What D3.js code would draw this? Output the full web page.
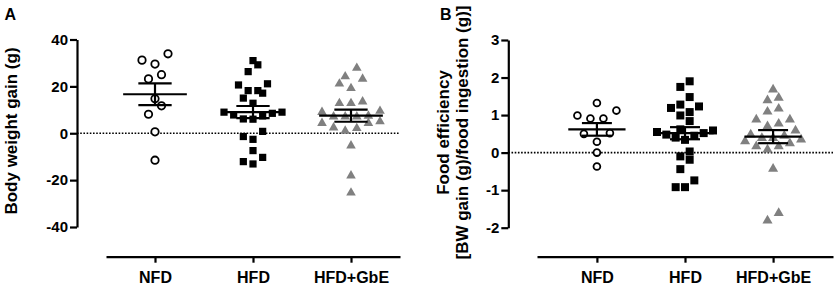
<!DOCTYPE html>
<html><head><meta charset="utf-8">
<script src="https://cdn.jsdelivr.net/npm/d3@7"></script>
<style>
html,body{margin:0;padding:0;background:#fff;}
svg{display:block;font-family:"Liberation Sans",Arial,sans-serif;}
</style></head>
<body><svg id="chart" width="835" height="285"></svg>
<script>
// ---------- DATA ----------
const categories = ["NFD", "HFD", "HFD+GbE"];

// Panel A: body weight gain (g)
const bwNFD = [33.9, 31.2, 29.5, 25.0, 23.2, 14.7, 11.7, 8.1, 0.6, -11.5];
const bwHFD = [31.0, 29.2, 26.3, 21.1, 20.6, 18.2, 18.2, 17.1, 15.0, 12.8, 9.0, 9.0, 8.5, 7.8, 7.4, 6.1, 6.0, 0.8, -1.4, -2.6, -7.4, -10.3, -12.1, -13.1];
const bwGbE = [27.8, 24.2, 23.2, 21.1, 19.2, 13.5, 12.8, 12.8, 9.5, 9.0, 7.4, 7.1, 7.1, 7.1, 5.0, 4.3, 4.3, 2.4, 2.1, 1.0, -5.3, -18.1, -25.4];
const ticksA = [-40, -20, 0, 20, 40];
const tickLabelsA = ["-40", "-20", "0", "20", "40"];

// Panel B: food efficiency
const feNFD = [1.32, 1.12, 0.99, 0.91, 0.91, 0.52, 0.50, 0.29, 0.0, -0.37];
const feHFD = [1.90, 1.75, 1.48, 1.28, 1.23, 1.19, 1.08, 0.99, 0.84, 0.62, 0.59, 0.55, 0.52, 0.48, 0.45, 0.40, 0.34, 0.03, -0.10, -0.19, -0.44, -0.74, -0.92, -0.92];
const feGbE = [1.68, 1.46, 1.39, 1.17, 1.09, 0.88, 0.88, 0.77, 0.70, 0.59, 0.48, 0.45, 0.39, 0.39, 0.35, 0.30, 0.25, 0.17, 0.17, 0.08, -0.43, -1.61, -1.81];
const ticksB = [-2, -1, 0, 1, 2, 3];
const tickLabelsB = ["-2", "-1", "0", "1", "2", "3"];

// ---------- DRAW ----------
const svg = d3.select("#chart");
const FONT = "Liberation Sans, Arial, sans-serif";

function swarm(values, y, binH, maxHalf, maxStep) {
  const pts = values.map(v => ({v, py: y(v)})).sort((a, b) => b.py - a.py);
  const bins = [];
  let cur = null;
  for (const p of pts) {
    if (!cur || cur.start - p.py > binH) { cur = {start: p.py, items: []}; bins.push(cur); }
    cur.items.push(p);
  }
  const maxN = d3.max(bins, b => b.items.length);
  const step = maxN > 1 ? Math.min(maxStep, 2 * maxHalf / (maxN - 1)) : 0;
  for (const b of bins) {
    const n = b.items.length;
    const slots = d3.range(n).map(k => k - (n - 1) / 2)
      .sort((a, c) => (Math.abs(a) - Math.abs(c)) || (a - c));
    b.items.forEach((p, i) => { p.dx = slots[i] * step; });
  }
  return pts;
}

function panel(cfg) {
  const g = svg.append("g");
  const y = d3.scaleLinear().domain(cfg.yDomain).range(cfg.yRange);
  const x = d3.scalePoint().domain(categories).range(cfg.xRange).padding(cfg.xPad);

  // y axis
  const ya = g.append("g").attr("transform", `translate(${cfg.yAxisX},0)`)
    .call(d3.axisLeft(y).tickValues(cfg.ticks).tickFormat((d, i) => cfg.tickLabels[i])
      .tickSize(7).tickSizeOuter(0).tickPadding(2));
  ya.select(".domain").attr("stroke-width", 2.2);
  ya.selectAll(".tick line").attr("stroke-width", 2.2);
  ya.selectAll(".tick text").attr("font-size", 15).attr("font-weight", "bold").attr("font-family", FONT).attr("fill", "#000");

  // x axis
  const xa = g.append("g").attr("transform", `translate(0,${cfg.xAxisY})`)
    .call(d3.axisBottom(x).tickSize(6).tickSizeOuter(0).tickPadding(9));
  xa.select(".domain").attr("stroke-width", 2.2);
  xa.selectAll(".tick line").attr("stroke-width", 2.2);
  xa.selectAll(".tick text").attr("font-size", 16).attr("font-weight", "bold").attr("font-family", FONT).attr("fill", "#000");

  // zero dotted line
  g.append("line").attr("x1", cfg.yAxisX).attr("x2", cfg.xRange[1])
    .attr("y1", y(0)).attr("y2", y(0))
    .attr("stroke", "#000").attr("stroke-width", 1.7).attr("stroke-dasharray", "1.6 1.6");

  const step = x.step();
  cfg.series.forEach((vals, si) => {
    const cx = x(categories[si]);
    const pts = swarm(vals, y, 10.5, cfg.maxHalf, cfg.maxStep);
    const mg = g.append("g");
    if (si === 0) {
      mg.selectAll("circle").data(pts).join("circle")
        .attr("cx", d => cx + d.dx).attr("cy", d => d.py).attr("r", cfg.circR)
        .attr("fill", "#fff").attr("stroke", "#000").attr("stroke-width", 1.8);
    } else if (si === 1) {
      mg.selectAll("path").data(pts).join("path")
        .attr("d", d3.symbol(d3.symbolSquare, cfg.sqSize))
        .attr("transform", d => `translate(${cx + d.dx},${d.py})`).attr("fill", "#000");
    } else {
      mg.selectAll("path").data(pts).join("path")
        .attr("d", d3.symbol(d3.symbolTriangle, cfg.triSize))
        .attr("transform", d => `translate(${cx + d.dx},${d.py})`).attr("fill", "#808080");
    }
    // mean +/- SEM
    const m = d3.mean(vals), sem = d3.deviation(vals) / Math.sqrt(vals.length);
    const mw = step * 0.325, sw = step * 0.17;
    const lg = g.append("g").attr("stroke", "#000").attr("stroke-width", 2.2);
    lg.append("line").attr("x1", cx - mw).attr("x2", cx + mw).attr("y1", y(m)).attr("y2", y(m));
    lg.append("line").attr("x1", cx - sw).attr("x2", cx + sw).attr("y1", y(m + sem)).attr("y2", y(m + sem));
    lg.append("line").attr("x1", cx - sw).attr("x2", cx + sw).attr("y1", y(m - sem)).attr("y2", y(m - sem));
    lg.append("line").attr("x1", cx).attr("x2", cx).attr("y1", y(m + sem)).attr("y2", y(m - sem));
  });

  // y title(s)
  cfg.titles.forEach(t => {
    g.append("text").attr("transform", `translate(${t.x},${cfg.titleY}) rotate(-90)`)
      .attr("text-anchor", "middle").attr("font-size", 17).attr("font-weight", "bold")
      .attr("font-family", FONT).text(t.text);
  });
  // panel letter
  g.append("text").attr("x", cfg.letterX).attr("y", 20).attr("font-size", 16)
    .attr("font-weight", "bold").attr("font-family", FONT).text(cfg.letter);
}

panel({
  letter: "A", letterX: 4.5,
  yDomain: [-40, 40], yRange: [227, 39.5], ticks: ticksA, tickLabels: tickLabelsA,
  yAxisX: 77, xRange: [106, 400], xPad: 0.5, xAxisY: 256.7,
  series: [bwNFD, bwHFD, bwGbE], maxHalf: 29, maxStep: 13,
  circR: 3.7, sqSize: 52, triSize: 40,
  titles: [{x: 16.5, text: "Body weight gain (g)"}], titleY: 131
});

panel({
  letter: "B", letterX: 440,
  yDomain: [-2, 3], yRange: [227.7, 40], ticks: ticksB, tickLabels: tickLabelsB,
  yAxisX: 508.3, xRange: [537, 833], xPad: 0.68, xAxisY: 256.7,
  series: [feNFD, feHFD, feGbE], maxHalf: 28, maxStep: 13,
  circR: 3.4, sqSize: 64, triSize: 44,
  titles: [{x: 449, text: "Food efficiency"}, {x: 468, text: "[BW gain (g)/food ingestion (g)]"}], titleY: 132.5
});
</script></body></html>
